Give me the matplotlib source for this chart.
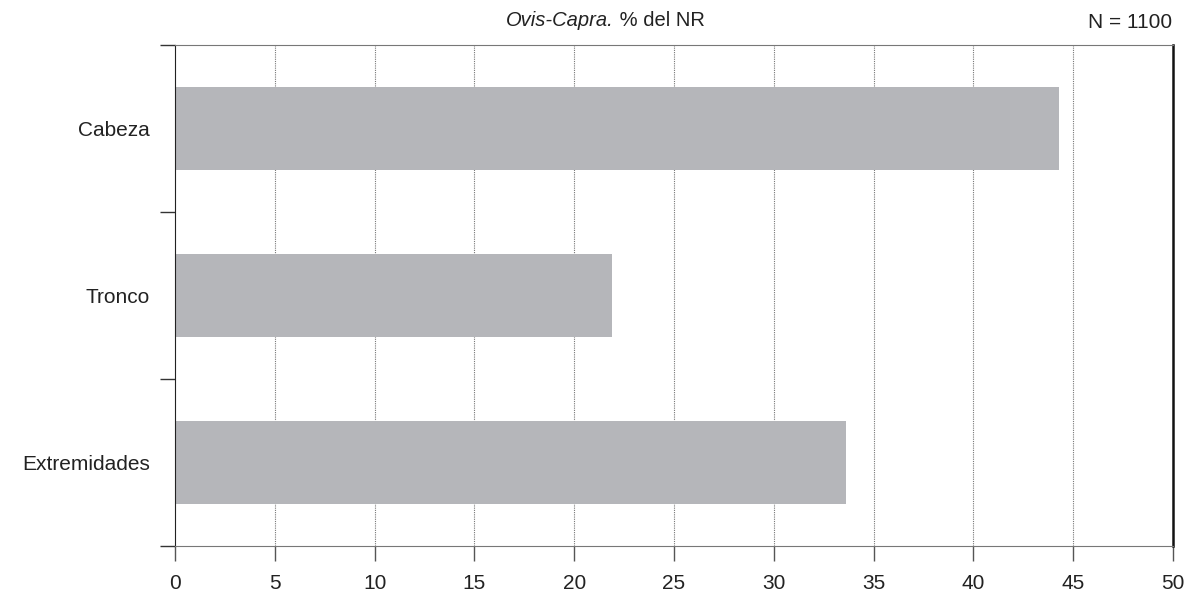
import numpy as np
from matplotlib import pyplot as plt

categories = ["Cabeza", "Tronco", "Extremidades"]
values = [44.3, 21.9, 33.6]
xticks = [0, 5, 10, 15, 20, 25, 30, 35, 40, 45, 50]

plt.rcParams["font.family"] = ["Liberation Sans", "DejaVu Sans"]
plt.rcParams["text.color"] = "#222222"
plt.rcParams["xtick.labelcolor"] = "#222222"
plt.rcParams["ytick.labelcolor"] = "#222222"

fig = plt.figure(figsize=(11.91, 5.99), dpi=100)
ax = fig.add_axes([175 / 1191, 1 - 546 / 599, 998 / 1191, 501 / 599])

pos = np.arange(len(categories))
ax.barh(pos, values, height=0.5, color="#b5b6ba", zorder=2)

ax.set_xlim(0, 50)
ax.set_ylim(2.5, -0.5)
ax.set_xticks(xticks)
ax.set_xticklabels([str(t) for t in xticks], fontsize=15)
ax.set_yticks(pos)
ax.set_yticklabels(categories, fontsize=15)
ax.tick_params(axis="y", which="major", length=0, pad=18)
ax.set_yticks([-0.5, 0.5, 1.5, 2.5], minor=True)
ax.tick_params(axis="y", which="minor", length=11, width=1, color="#333333")
ax.tick_params(axis="x", length=11, width=1, color="#555555", pad=9)

for x in xticks[1:-1]:
    ax.axvline(x, color="#777777", linestyle=(0, (1, 1)), linewidth=0.8, zorder=1)

ax.spines["top"].set_color("#777777")
ax.spines["bottom"].set_color("#777777")
ax.spines["left"].set_color("#222222")
ax.spines["right"].set_color("#111111")
ax.spines["right"].set_linewidth(1.8)

fig.text(614 / 1191, 1 - 20 / 599, "Ovis-Capra.", fontsize=14.5, style="italic",
         ha="right", va="center")
fig.text(614 / 1191, 1 - 20 / 599, " % del NR", fontsize=14.5, ha="left", va="center")
fig.text(1172 / 1191, 1 - 22 / 599, "N = 1100", fontsize=15, ha="right", va="center")

fig.savefig("out.png", dpi=100)
